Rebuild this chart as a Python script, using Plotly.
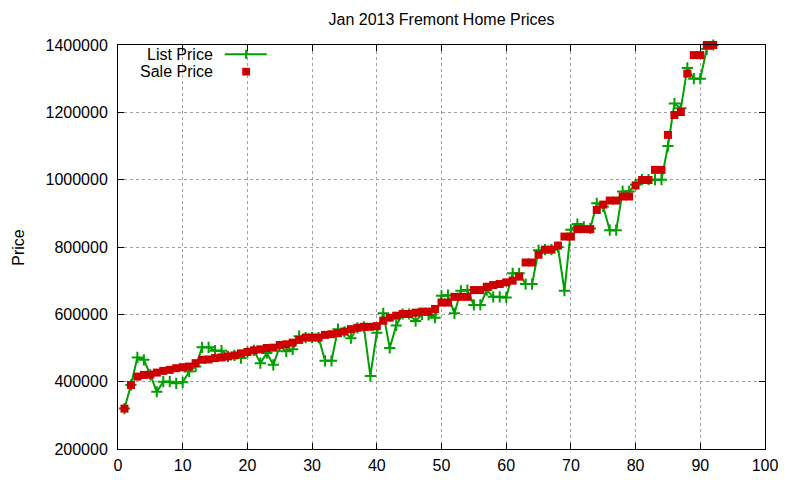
import plotly.graph_objects as go

# home index, one per sale
homes = list(range(1, 93))

list_price = [
    320000, 390000, 472000, 465000, 420000, 370000, 400000, 400000, 395000, 398000,
    430000, 445000, 502000, 502000, 492000, 492000, 475000, 478000, 470000, 488000,
    493000, 455000, 485000, 450000, 505000, 490000, 496000, 535000, 531000, 531000,
    531000, 462000, 462000, 556000, 548000, 529000, 560000, 563000, 417000, 545000,
    603000, 500000, 567000, 601000, 601000, 580000, 600000, 598000, 590000, 655000,
    657000, 603000, 670000, 672000, 628000, 628000, 672000, 652000, 652000, 650000,
    722000, 722000, 690000, 690000, 790000, 792000, 792000, 800000, 670000, 851000,
    868000, 860000, 855000, 930000, 920000, 850000, 850000, 965000, 965000, 985000,
    1000000, 1000000, 1000000, 1000000, 1100000, 1226000, 1212000, 1332000, 1300000, 1300000,
    1388000, 1400000,
]

sale_price = [
    320000, 390000, 415000, 420000, 421000, 427000, 432000, 435000, 440000, 443000,
    445000, 455000, 465000, 466000, 470000, 472000, 475000, 478000, 484000, 488000,
    493000, 496000, 500000, 501000, 509000, 511000, 516000, 524000, 531000, 531000,
    531000, 539000, 541000, 544000, 549000, 556000, 560000, 563000, 563000, 565000,
    581000, 590000, 596000, 601000, 601000, 605000, 608000, 608000, 616000, 635000,
    635000, 652000, 652000, 652000, 672000, 672000, 682000, 687000, 690000, 695000,
    700000, 712000, 754000, 754000, 777000, 792000, 792000, 804000, 831000, 831000,
    853000, 853000, 853000, 910000, 926000, 938000, 938000, 950000, 950000, 983000,
    999000, 999000, 1029000, 1029000, 1133000, 1192000, 1201000, 1315000, 1370000, 1370000,
    1400000, 1400000,
]

x_ticks = list(range(0, 101, 10))
y_ticks = list(range(200000, 1400001, 200000))

GREEN = '#00a000'
RED = '#cc0000'
FONT = 'Liberation Sans, Arial, sans-serif'
FS = 16

fig = go.Figure()

fig.add_trace(go.Scatter(
    x=homes, y=list_price,
    mode='lines+markers',
    name='List Price',
    line=dict(color=GREEN, width=2),
    marker=dict(symbol='cross-thin', size=8, color=GREEN,
                line=dict(color=GREEN, width=2)),
    cliponaxis=False,
))

fig.add_trace(go.Scatter(
    x=homes, y=sale_price,
    mode='markers',
    name='Sale Price',
    marker=dict(symbol='square', size=8, color=RED, line=dict(width=0)),
    cliponaxis=False,
))

axis_common = dict(
    showline=True, linecolor='black', linewidth=1, mirror='ticks',
    ticks='inside', ticklen=6, tickcolor='black', tickwidth=1,
    showgrid=True, gridcolor='#a0a0a0', griddash='dot', gridwidth=1,
    zeroline=False, automargin=False,
    tickfont=dict(family=FONT, size=FS, color='black'),
)

fig.update_xaxes(range=[0, 100], tickvals=x_ticks,
                 ticktext=[str(v) for v in x_ticks], ticklabelstandoff=2,
                 **axis_common)
fig.update_yaxes(range=[200000, 1400000], tickvals=y_ticks,
                 ticktext=[str(v) for v in y_ticks], ticklabelstandoff=6,
                 **axis_common)

# gnuplot style key: text on the left, sample on the right
key_x_text = 0.150
key_y = [0.977, 0.934]
shapes = [
    dict(type='line', xref='paper', yref='paper', x0=0.165, x1=0.230,
         y0=key_y[0], y1=key_y[0], line=dict(color=GREEN, width=2)),
    dict(type='line', xref='paper', yref='paper', x0=0.198, x1=0.198,
         y0=key_y[0] - 0.011, y1=key_y[0] + 0.011, line=dict(color=GREEN, width=2)),
    dict(type='rect', xref='paper', yref='paper', x0=0.192, x1=0.204,
         y0=key_y[1] - 0.0095, y1=key_y[1] + 0.0095, fillcolor=RED, line=dict(width=0)),
]
annotations = [
    dict(text=name, xref='paper', yref='paper', x=key_x_text, y=yy,
         xanchor='right', yanchor='middle', showarrow=False,
         font=dict(family=FONT, size=FS, color='black'))
    for name, yy in zip(['List Price', 'Sale Price'], key_y)
]
annotations.append(dict(
    text='Price', xref='paper', yref='paper', x=-0.155, y=0.5,
    xanchor='center', yanchor='middle', textangle=-90, showarrow=False,
    font=dict(family=FONT, size=FS, color='black'),
))

# page body adds an 8px offset, so the figure is sized to fit inside it
fig.update_layout(
    width=792, height=472,
    margin=dict(l=110, r=35, t=37, b=31),
    paper_bgcolor='white', plot_bgcolor='white',
    showlegend=False,
    title=dict(text='Jan 2013 Fremont Home Prices', x=0.5, xanchor='center',
               y=0.975, yanchor='middle', xref='paper',
               font=dict(family=FONT, size=FS, color='black')),
    font=dict(family=FONT),
    shapes=shapes,
    annotations=annotations,
)

fig.write_html('out.html')
